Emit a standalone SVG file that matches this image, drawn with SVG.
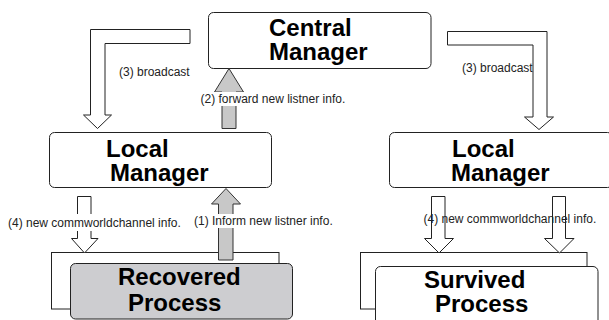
<svg xmlns="http://www.w3.org/2000/svg" width="609" height="320" viewBox="0 0 609 320">
<style>
.box{fill:#fff;stroke:#222;stroke-width:1}
.gray{fill:#cdcdd0}
.back{fill:#fff;stroke:#222;stroke-width:1}
.title{font-family:"Liberation Sans",Arial,sans-serif;font-weight:bold;font-size:24px;fill:#000}
.lbl{font-family:"Liberation Sans",Arial,sans-serif;font-size:12px;fill:#222}
.arr{fill:#fff;stroke:#222;stroke-width:1;stroke-linejoin:miter}
.garr{fill:#c8c8c8;stroke:#333;stroke-width:1}
.bg{fill:#fff}
</style>
<rect width="609" height="320" fill="#fff"/>
<g id="central-manager">
<rect class="box" x="208.5" y="12.5" width="222.5" height="56" rx="5"/>
<text class="title" x="269" y="36">Central</text>
<text class="title" x="269" y="60">Manager</text>
</g>
<g id="local-manager-left">
<rect class="box" x="49.5" y="132.5" width="222" height="55" rx="5"/>
<text class="title" x="106" y="157">Local</text>
<text class="title" x="110" y="181">Manager</text>
</g>
<g id="local-manager-right">
<rect class="box" x="389.5" y="132.5" width="223" height="55" rx="5"/>
<text class="title" x="452" y="157">Local</text>
<text class="title" x="451" y="181">Manager</text>
</g>
<g id="recovered-process">
<rect class="back" x="51.5" y="252.5" width="227.5" height="56.5"/>
</g>
<g id="survived-process">
<rect class="back" x="360.5" y="252.5" width="226.5" height="56.5"/>
</g>
<g id="connectors">
<path class="arr" d="M190,29.5 H90.5 V115 H83.5 L97.5,128.5 L111.5,115 H105 V43.5 H190 Z"/>
<text class="lbl" x="119" y="76">(3) broadcast</text>
<path class="arr" d="M447.5,31.5 H547 V117 H553.5 L539,129.5 L524.5,117 H533 V45 H447.5 Z"/>
<text class="lbl" x="462" y="72">(3) broadcast</text>
<path class="garr" d="M222,128.5 V92 H214.5 L229,68.5 L243.5,92 H236 V128.5 Z"/>
<rect class="bg" x="199" y="92" width="148" height="14"/>
<text class="lbl" x="200.5" y="103">(2) forward new listner info.</text>
<path class="garr" d="M218.5,260 V204 H211.5 L226,188.5 L240.5,204 H233 V260 Z"/>
<rect class="bg" x="193" y="214" width="140" height="14"/>
<text class="lbl" x="194" y="225">(1) Inform new listner info.</text>
<path class="arr" d="M77.5,196.5 H91 V238.5 H98 L84.5,253 L71.5,238.5 H77.5 Z"/>
<rect class="bg" x="7" y="214" width="177" height="17"/>
<text class="lbl" x="8" y="227">(4) new commworldchannel info.</text>
<path class="arr" d="M431.5,196.5 H445 V238.5 H453.5 L439,253 L424.5,238.5 H431.5 Z"/>
<path class="arr" d="M552.5,196.5 H565.5 V238.5 H574 L559.5,253 L544.5,238.5 H552.5 Z"/>
<text class="lbl" x="423.5" y="223">(4) new commworldchannel info.</text>
</g>
<g id="recovered-process-front">
<rect class="box gray" x="70.5" y="263.5" width="222" height="55.5" rx="5"/>
<text class="title" x="118" y="285">Recovered</text>
<text class="title" x="128" y="311">Process</text>
</g>
<g id="survived-process-front">
<rect class="box" x="375.5" y="266.5" width="222.5" height="60" rx="5"/>
<text class="title" x="424" y="288">Survived</text>
<text class="title" x="435" y="312">Process</text>
</g>
</svg>
